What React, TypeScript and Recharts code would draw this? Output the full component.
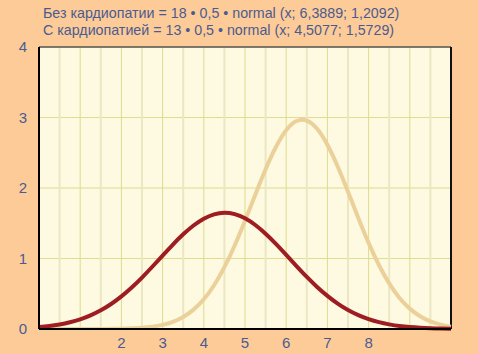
import { LineChart, Line, XAxis, YAxis, CartesianGrid, ReferenceLine } from "recharts";

// x positions (step 0.25) and values
const xs = [
  0, 0.25, 0.5, 0.75, 1, 1.25, 1.5, 1.75, 2, 2.25, 2.5, 2.75, 3, 3.25, 3.5, 3.75, 4, 4.25, 4.5, 4.75,
  5, 5.25, 5.5, 5.75, 6, 6.25, 6.5, 6.75, 7, 7.25, 7.5, 7.75, 8, 8.25, 8.5, 8.75, 9, 9.25, 9.5, 9.75, 10,
];
const withoutCardio = [
  0, 0, 0, 0, 0, 0, 0.001, 0.002, 0.004, 0.009, 0.017, 0.032, 0.059, 0.102, 0.171, 0.275, 0.422, 0.621,
  0.877, 1.185, 1.535, 1.905, 2.266, 2.582, 2.82, 2.95, 2.957, 2.84, 2.613, 2.304, 1.947, 1.576, 1.222,
  0.908, 0.647, 0.441, 0.289, 0.181, 0.108, 0.062, 0.034,
];
const withCardio = [
  0.027, 0.042, 0.064, 0.095, 0.137, 0.193, 0.265, 0.355, 0.463, 0.589, 0.73, 0.883, 1.041, 1.198, 1.343,
  1.468, 1.565, 1.627, 1.649, 1.629, 1.57, 1.475, 1.351, 1.207, 1.051, 0.893, 0.739, 0.597, 0.47, 0.361,
  0.27, 0.197, 0.14, 0.097, 0.066, 0.043, 0.028, 0.018, 0.011, 0.006, 0.004,
];
const xTicks = [2, 3, 4, 5, 6, 7, 8];
const yTicks = [0, 1, 2, 3, 4];
const gridMajor = [1, 2, 3, 4, 5, 6, 7, 8, 9];
const gridMinor = [0.5, 1.5, 2.5, 3.5, 4.5, 5.5, 6.5, 7.5, 8.5, 9.5];
const titleLines = [
  "Без кардиопатии = 18 • 0,5 • normal (x; 6,3889; 1,2092)",
  "С кардиопатией = 13 • 0,5 • normal (x; 4,5077; 1,5729)",
];

const data = xs.map((x, i) => ({ x, a: withoutCardio[i], b: withCardio[i] }));

const font = '"Liberation Sans", Arial, sans-serif';
const textColor = "#4b5b8f";

export default function App() {
  return (
    <div
      style={{
        position: "absolute",
        left: 0,
        top: 0,
        width: 478,
        height: 354,
        background: "#fdcb98",
        fontFamily: font,
      }}
    >
      <div
        style={{
          position: "absolute",
          left: 43,
          top: 4,
          fontSize: 15,
          lineHeight: "17px",
          color: textColor,
          transform: "scaleX(0.95)",
          transformOrigin: "0 0",
          whiteSpace: "nowrap",
        }}
      >
        {titleLines.map((t) => (
          <div key={t}>{t}</div>
        ))}
      </div>
      <LineChart
        width={478}
        height={354}
        data={data}
        margin={{ top: 47, right: 27, left: 0, bottom: 0 }}
        style={{ position: "absolute", left: 0, top: 0 }}
      >
        <CartesianGrid fill="#fdfae1" vertical={false} stroke="#dfdb8f" strokeWidth={1} />
        {gridMinor.map((v) => (
          <ReferenceLine key={"m" + v} x={v} stroke="#ebe7c3" strokeWidth={2} />
        ))}
        {gridMajor.map((v) => (
          <ReferenceLine key={"M" + v} x={v} stroke="#dfdb8f" strokeWidth={1} />
        ))}
        <ReferenceLine y={4} stroke="#555" strokeWidth={1.5} />
        <ReferenceLine x={10} stroke="#111" strokeWidth={2} />
        <XAxis
          dataKey="x"
          type="number"
          domain={[0, 10]}
          ticks={xTicks}
          height={25}
          tickLine={false}
          axisLine={{ stroke: "#000", strokeWidth: 2 }}
          tick={{ fill: textColor, fontSize: 15, fontFamily: font }}
          tickMargin={2}
        />
        <YAxis
          type="number"
          domain={[0, 4]}
          ticks={yTicks}
          width={39}
          tickLine={false}
          axisLine={{ stroke: "#000", strokeWidth: 2 }}
          tick={{ fill: textColor, fontSize: 15, fontFamily: font }}
          tickMargin={6}
        />
        <Line
          type="natural"
          dataKey="a"
          stroke="#ebd199"
          strokeWidth={4}
          dot={false}
          isAnimationActive={false}
        />
        <Line
          type="natural"
          dataKey="b"
          stroke="#9e1d22"
          strokeWidth={4}
          dot={false}
          isAnimationActive={false}
        />
      </LineChart>
    </div>
  );
}
